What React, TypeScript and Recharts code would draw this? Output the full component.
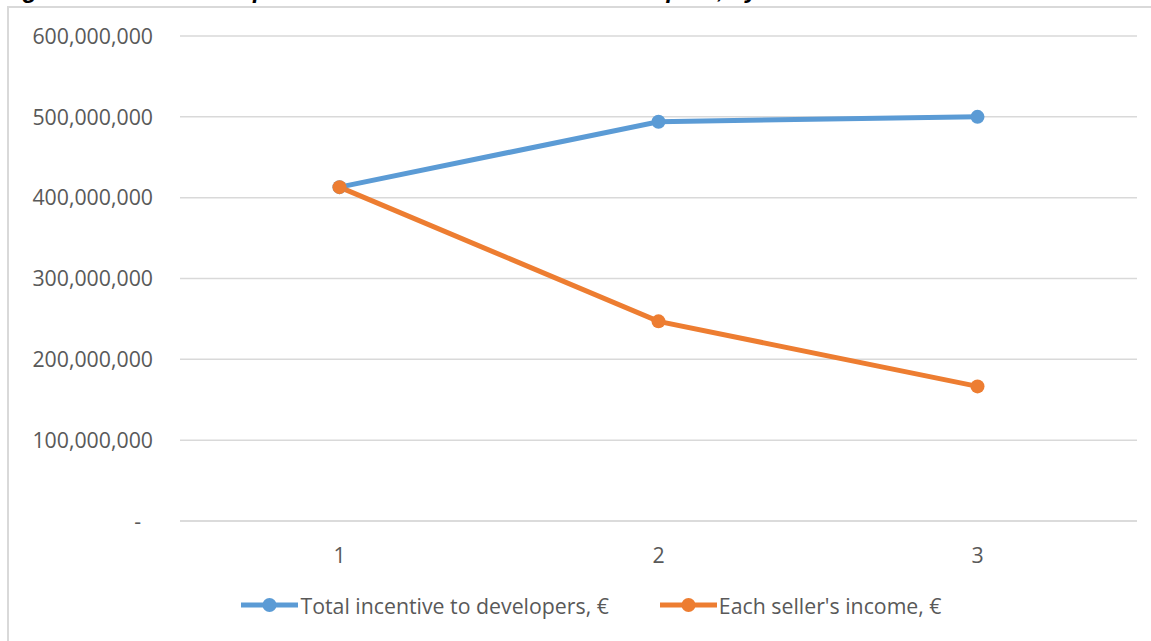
import { LineChart, Line, XAxis, YAxis, CartesianGrid, Legend } from 'recharts';

const VOUCHERS = ['1', '2', '3'];
const TOTAL_INCENTIVE = [413000000, 494000000, 500000000];
const SELLER_INCOME = [413000000, 247000000, 166500000];
const Y_TICKS = [0, 100000000, 200000000, 300000000, 400000000, 500000000, 600000000];

const SERIES = [
  { key: 'total', name: 'Total incentive to developers, €', color: '#5B9BD5' },
  { key: 'seller', name: "Each seller's income, €", color: '#ED7D31' },
];

const data = VOUCHERS.map((v, i) => ({
  vouchers: v,
  total: TOTAL_INCENTIVE[i],
  seller: SELLER_INCOME[i],
}));

const FONT = '"Open Sans", sans-serif';
const TEXT_COLOR = '#595959';
const GRID = '#d9d9d9';

const YTick = ({ x, y, payload }: { x: number; y: number; payload: { value: number } }) => {
  const v = payload.value;
  return (
    <text
      x={v === 0 ? x - 12 : x}
      y={y}
      dy="0.36em"
      textAnchor="end"
      fontFamily={FONT}
      fontSize={21.3}
      fill={TEXT_COLOR}
    >
      {v === 0 ? '-' : v.toLocaleString('en-US')}
    </text>
  );
};

const LegendContent = () => (
  <div style={{ display: 'flex', justifyContent: 'center', alignItems: 'center', height: 44 }}>
    {SERIES.map((s, i) => (
      <div key={s.key} style={{ display: 'flex', alignItems: 'center', marginRight: i === 0 ? 51 : 0 }}>
        <svg width={57} height={16}>
          <line x1={0} y1={8} x2={57} y2={8} stroke={s.color} strokeWidth={5} strokeLinecap="round" />
          <circle cx={28.5} cy={8} r={7} fill={s.color} />
        </svg>
        <span style={{ fontFamily: FONT, fontSize: 21.3, color: TEXT_COLOR, marginLeft: 2, whiteSpace: 'nowrap' }}>
          {s.name}
        </span>
      </div>
    ))}
  </div>
);

export default function App() {
  return (
    <div style={{ position: 'fixed', left: 0, top: 0, width: 1151, height: 641, overflow: 'hidden', background: '#fff' }}>
      <div
        style={{
          position: 'absolute',
          left: 0,
          top: -24,
          width: 1151,
          fontFamily: '"Liberation Sans", Arial, sans-serif',
          fontWeight: 'bold',
          fontSize: 24,
          lineHeight: '28px',
          color: '#000',
          whiteSpace: 'nowrap',
        }}
      >
        <span style={{ position: 'absolute', left: 0 }}>Figure 5</span>
        <span style={{ position: 'absolute', left: 225, fontStyle: 'italic' }}>
          Impact of a voucher scheme on developers, by number of vouchers
        </span>
      </div>
      <div
        style={{
          position: 'absolute',
          left: 7,
          top: 6,
          width: 1200,
          height: 700,
          border: `2px solid ${GRID}`,
          boxSizing: 'border-box',
        }}
      />
      <div style={{ position: 'absolute', left: 0, top: 0 }}>
        <LineChart width={1151} height={641} data={data} margin={{ top: 36, right: 14, bottom: 36, left: 0 }}>
          <CartesianGrid vertical={false} stroke={GRID} strokeWidth={1.5} />
          <XAxis
            dataKey="vouchers"
            padding={{ left: 159.5, right: 159.5 }}
            axisLine={{ stroke: GRID, strokeWidth: 1.5 }}
            tickLine={false}
            tickMargin={21}
            height={40}
            tick={{ fontFamily: FONT, fontSize: 21.3, fill: TEXT_COLOR }}
          />
          <YAxis
            width={180}
            domain={[0, 600000000]}
            ticks={Y_TICKS}
            axisLine={false}
            tickLine={false}
            tickMargin={21}
            tick={YTick}
          />
          <Legend
            verticalAlign="bottom"
            content={<LegendContent />}
            wrapperStyle={{ left: 16, width: 1151, top: 583 }}
          />
          {SERIES.map((s) => (
            <Line
              key={s.key}
              dataKey={s.key}
              name={s.name}
              stroke={s.color}
              strokeWidth={5}
              dot={{ r: 7, fill: s.color, stroke: s.color, strokeWidth: 0 }}
              activeDot={false}
              isAnimationActive={false}
            />
          ))}
        </LineChart>
      </div>
    </div>
  );
}
